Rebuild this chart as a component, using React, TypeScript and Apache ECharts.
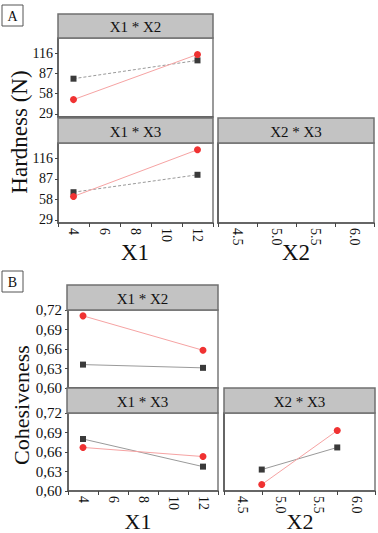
import React, { useEffect, useRef } from "react";
import * as echarts from "echarts";

// ---------- data ----------
const X1_LEVELS = [4, 12];
const X2_LEVELS = [4.75, 5.75];

// Panel A: Hardness (N)
const A_X1X2_SQUARE = [79.3, 105.5];
const A_X1X2_CIRCLE = [49.4, 114];
const A_X1X3_SQUARE = [68, 92.6];
const A_X1X3_CIRCLE = [62, 128];

// Panel B: Cohesiveness
const B_X1X2_SQUARE = [0.636, 0.631];
const B_X1X2_CIRCLE = [0.711, 0.658];
const B_X1X3_SQUARE = [0.68, 0.6375];
const B_X1X3_CIRCLE = [0.667, 0.653];
const B_X2X3_SQUARE = [0.633, 0.667];
const B_X2X3_CIRCLE = [0.61, 0.693];

const A_Y_TICKS = [29, 58, 87, 116];
const B_Y_TICKS = [0.6, 0.63, 0.66, 0.69, 0.72];
const X1_TICK_LABELS = [4, 6, 8, 10, 12];
const X1_TICK_MARKS = [3, 5, 7, 9, 11, 13];
const X2_TICK_LABELS = [4.5, 5.0, 5.5, 6.0];
const X2_TICK_MARKS = [4.25, 4.75, 5.25, 5.75, 6.25];

const PANEL_TITLES = ["X1 * X2", "X1 * X3", "X2 * X3"];

const FONT = "Liberation Serif";

export default function App() {
  const ref = useRef<HTMLDivElement>(null);

  useEffect(() => {
    document.body.style.margin = "0";
    const chart = echarts.init(ref.current!, undefined, { renderer: "svg" });

    // grid rectangles [left, top, width, height]
    const grids = [
      [58, 38, 155, 79], // A X1*X2
      [58, 143, 155, 80], // A X1*X3
      [218, 143, 156, 80], // A X2*X3
      [68, 310, 150, 78], // B X1*X2
      [68, 413, 150, 78], // B X1*X3
      [224, 413, 151, 78], // B X2*X3
    ];
    const headers = [
      [58, 14, 155, 24, PANEL_TITLES[0]],
      [58, 118, 155, 25, PANEL_TITLES[1]],
      [218, 118, 156, 25, PANEL_TITLES[2]],
      [67, 285, 151, 25, PANEL_TITLES[0]],
      [67, 388, 151, 25, PANEL_TITLES[1]],
      [224, 388, 151, 25, PANEL_TITLES[2]],
    ];

    const gridOpts = grids.map(([l, t, w, h]) => ({
      left: l,
      top: t,
      width: w,
      height: h,
      show: true,
      borderColor: "#7a7a7a",
      borderWidth: 1.5,
      containLabel: false,
      outerBoundsMode: "none",
    }));

    const axisLineStyle = { show: true, lineStyle: { color: "#555", width: 1.5 } };
    const tickStyle = { color: "#444", width: 1 };

    const xAxisFor = (i: number) => {
      const isX2 = i === 2 || i === 5;
      const isTop = i === 0 || i === 3;
      const base: any = {
        type: "value",
        gridIndex: i,
        min: isX2 ? 4.25 : 3,
        max: isX2 ? 6.25 : 13,
        splitLine: { show: false },
        axisLine: axisLineStyle,
      };
      if (isTop) {
        base.axisLabel = { show: false };
        base.axisTick = { show: false };
      } else {
        base.axisTick = {
          show: true,
          length: 4,
          customValues: isX2 ? X2_TICK_MARKS : X1_TICK_MARKS,
          lineStyle: tickStyle,
        };
        base.axisLabel = {
          show: true,
          rotate: -90,
          margin: 5,
          customValues: isX2 ? X2_TICK_LABELS : X1_TICK_LABELS,
          formatter: (v: number) => (isX2 ? v.toFixed(1) : String(v)),
          fontFamily: FONT,
          fontSize: 14,
          color: "#111",
        };
      }
      return base;
    };

    const yAxisFor = (i: number) => {
      const isA = i < 3;
      const isRight = i === 2 || i === 5;
      const base: any = {
        type: "value",
        gridIndex: i,
        min: isA ? 24.5 : 0.6,
        max: isA ? 137.5 : 0.72,
        splitLine: { show: false },
        axisLine: axisLineStyle,
      };
      if (isRight) {
        base.axisLabel = { show: false };
        base.axisTick = { show: false };
      } else {
        const ticks = isA ? A_Y_TICKS : B_Y_TICKS;
        base.axisTick = { show: true, length: 3, customValues: ticks, lineStyle: tickStyle };
        base.axisLabel = {
          show: true,
          margin: isA ? 5 : 6,
          customValues: ticks,
          formatter: (v: number) => (isA ? String(v) : v.toFixed(2).replace(".", ",")),
          fontFamily: FONT,
          fontSize: isA ? 14 : 15,
          color: "#111",
        };
      }
      return base;
    };

    const mk = (i: number, xs: number[], ys: number[], kind: "sq" | "ci", dashed: boolean) => ({
      type: "line",
      name: kind === "sq" ? "low level" : "high level",
      xAxisIndex: i,
      yAxisIndex: i,
      data: xs.map((x, k) => [x, ys[k]]),
      symbol: kind === "sq" ? "rect" : "circle",
      symbolSize: kind === "sq" ? 6 : 7,
      itemStyle: { color: kind === "sq" ? "#3a3a3a" : "#f03232" },
      lineStyle:
        kind === "sq"
          ? { color: "#9a9a9a", width: 1, type: dashed ? [3, 2] : "solid" }
          : { color: "#f6a3a3", width: 1 },
      z: kind === "sq" ? 3 : 4,
    });

    const series = [
      mk(0, X1_LEVELS, A_X1X2_SQUARE, "sq", true),
      mk(0, X1_LEVELS, A_X1X2_CIRCLE, "ci", false),
      mk(1, X1_LEVELS, A_X1X3_SQUARE, "sq", true),
      mk(1, X1_LEVELS, A_X1X3_CIRCLE, "ci", false),
      mk(3, X1_LEVELS, B_X1X2_SQUARE, "sq", false),
      mk(3, X1_LEVELS, B_X1X2_CIRCLE, "ci", false),
      mk(4, X1_LEVELS, B_X1X3_SQUARE, "sq", false),
      mk(4, X1_LEVELS, B_X1X3_CIRCLE, "ci", false),
      mk(5, X2_LEVELS, B_X2X3_SQUARE, "sq", false),
      mk(5, X2_LEVELS, B_X2X3_CIRCLE, "ci", false),
    ];

    const graphics: any[] = [];
    headers.forEach(([l, t, w, h, title]) => {
      graphics.push({
        type: "rect",
        shape: { x: l as number, y: t as number, width: w as number, height: h as number },
        style: { fill: "#c3c3c3", stroke: "#707070", lineWidth: 1.5 },
        z: 10,
      });
      graphics.push({
        type: "text",
        x: (l as number) + (w as number) / 2,
        y: (t as number) + (h as number) / 2 + 1,
        style: {
          text: title,
          textAlign: "center",
          textVerticalAlign: "middle",
          fontFamily: FONT,
          fontSize: 15,
          fill: "#111",
        },
        z: 11,
      });
    });
    // panel letters
    [
      [2, 5, "A"],
      [2, 271, "B"],
    ].forEach(([x, y, t]) => {
      graphics.push({
        type: "rect",
        shape: { x: x as number, y: y as number, width: 21, height: 21 },
        style: { fill: "#fff", stroke: "#555", lineWidth: 1 },
        z: 10,
      });
      graphics.push({
        type: "text",
        x: (x as number) + 10.5,
        y: (y as number) + 11,
        style: {
          text: t,
          textAlign: "center",
          textVerticalAlign: "middle",
          fontFamily: FONT,
          fontSize: 14,
          fill: "#111",
        },
        z: 11,
      });
    });
    // axis titles
    const titles: [number, number, string, number, number][] = [
      [19, 132, "Hardness (N)", 23, Math.PI / 2],
      [21, 405, "Cohesiveness", 22, Math.PI / 2],
      [135, 252, "X1", 23, 0],
      [296, 252, "X2", 23, 0],
      [138, 521, "X1", 22, 0],
      [300, 521, "X2", 22, 0],
    ];
    titles.forEach(([x, y, t, fs, rot]) => {
      graphics.push({
        type: "text",
        x,
        y,
        rotation: rot,
        style: {
          text: t,
          textAlign: "center",
          textVerticalAlign: "middle",
          fontFamily: FONT,
          fontSize: fs,
          fill: "#111",
        },
        z: 11,
      });
    });

    chart.setOption({
      animation: false,
      backgroundColor: "#fff",
      grid: gridOpts,
      xAxis: grids.map((_, i) => xAxisFor(i)),
      yAxis: grids.map((_, i) => yAxisFor(i)),
      series,
      graphic: graphics,
    });

    return () => chart.dispose();
  }, []);

  return (
    <div
      ref={ref}
      style={{ position: "absolute", left: 0, top: 0, width: 378, height: 533 }}
    />
  );
}
